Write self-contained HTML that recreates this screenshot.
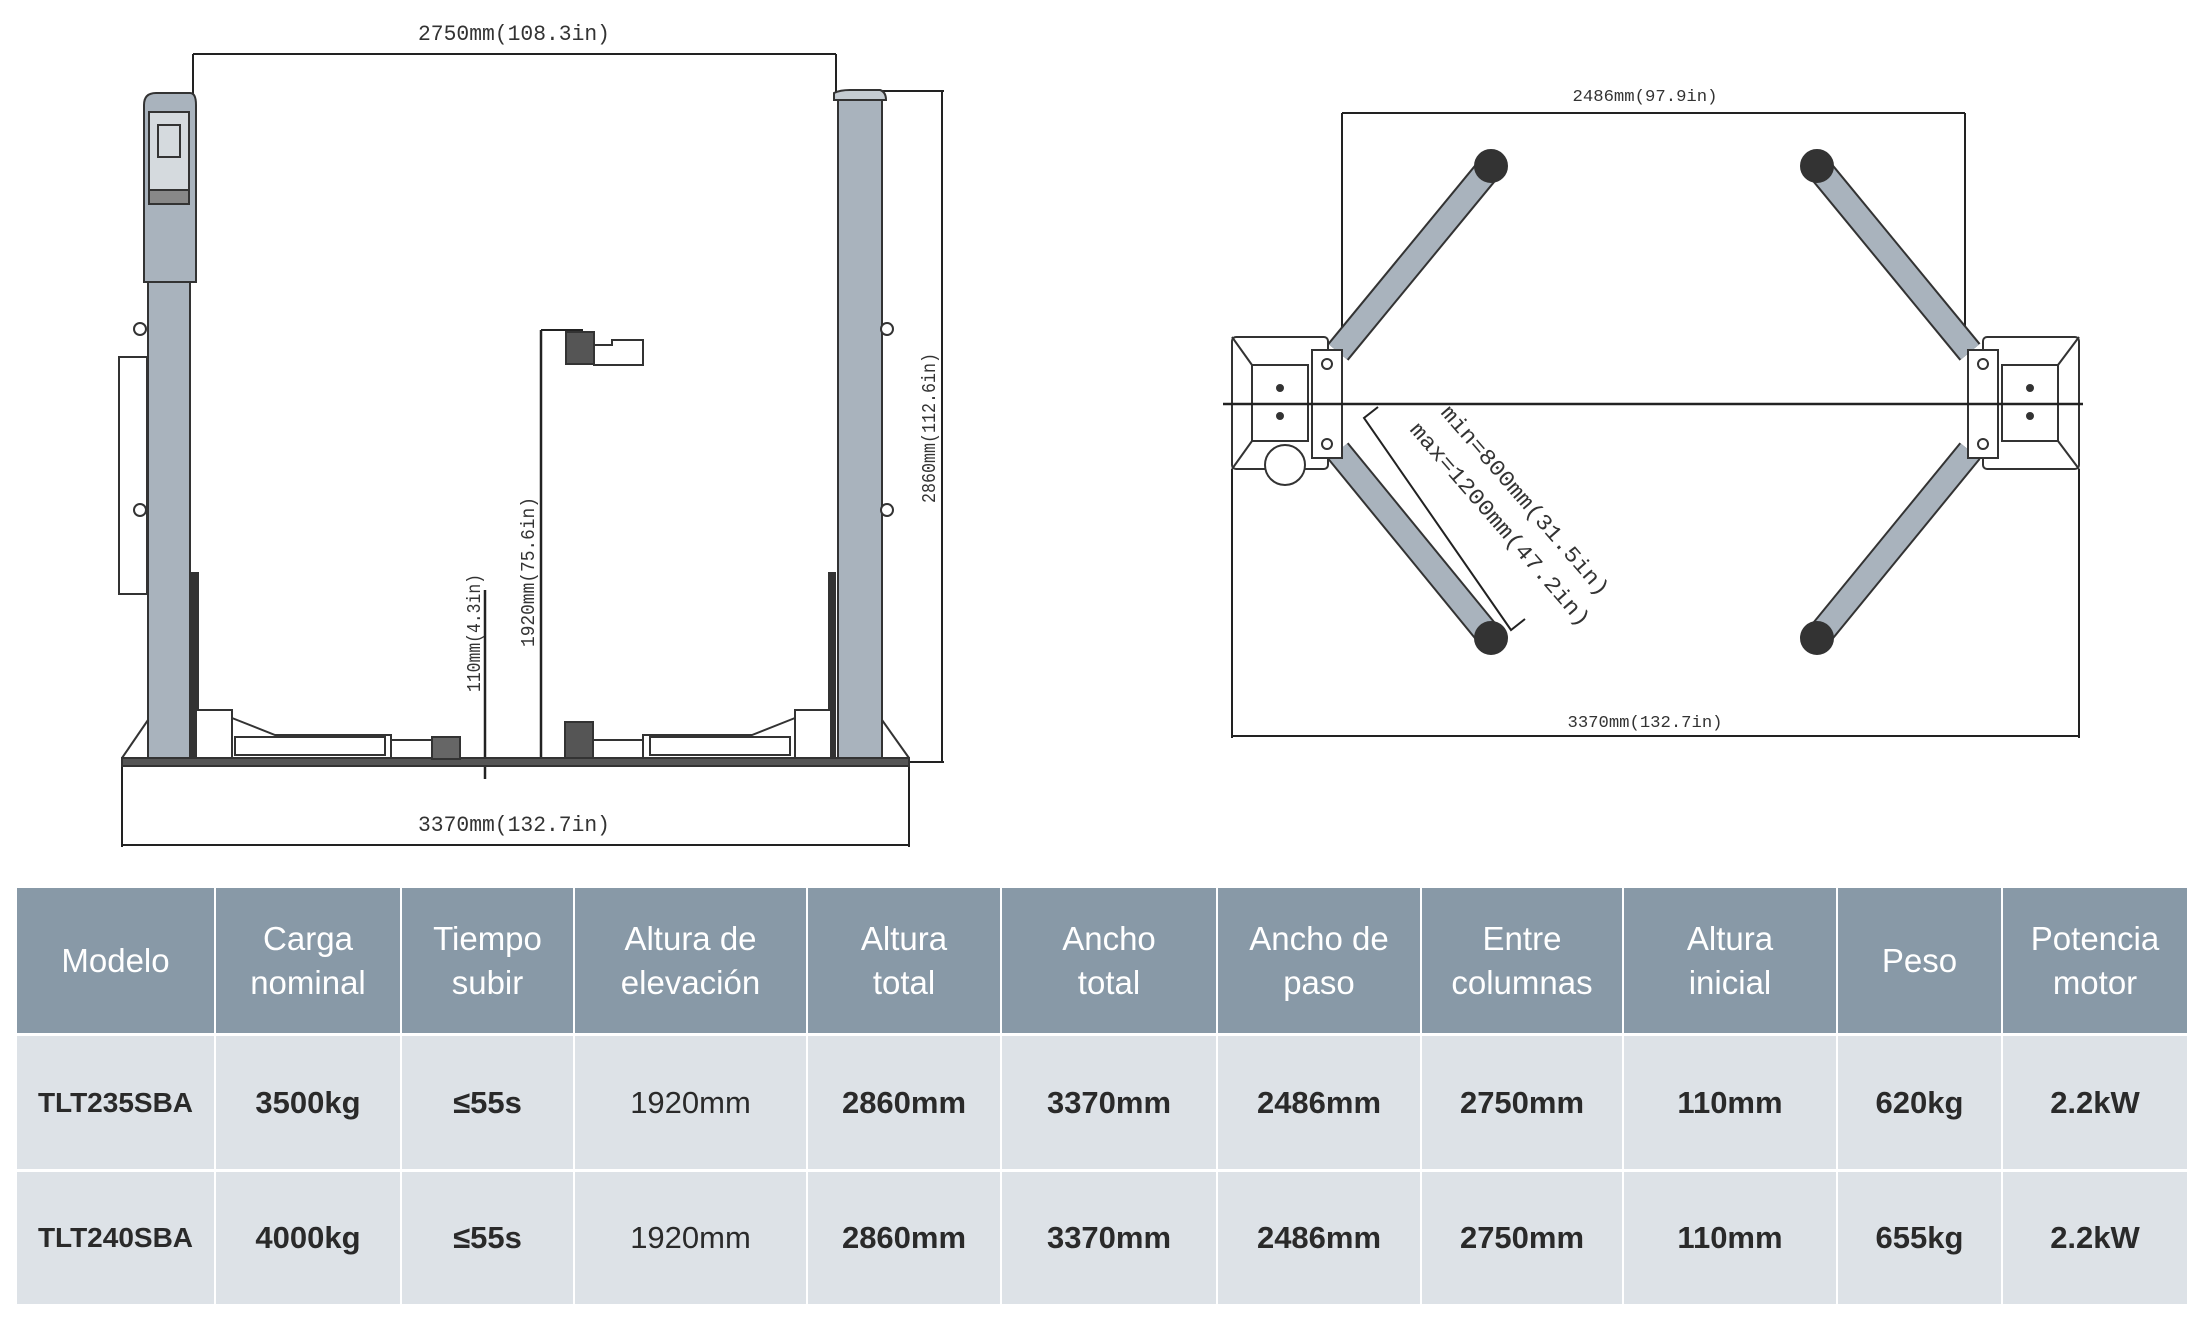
<!DOCTYPE html>
<html><head><meta charset="utf-8"><style>
html,body{margin:0;padding:0;background:#fff;}
body{width:2210px;height:1324px;position:relative;overflow:hidden;font-family:"Liberation Sans",sans-serif;}
svg{position:absolute;left:0;top:0;}
.c{position:absolute;display:flex;align-items:center;justify-content:center;text-align:center;box-sizing:border-box;}
.h{background:#8899a7;color:#fff;font-size:33px;line-height:44px;}
.b{background:#dde2e7;color:#2a2a2a;font-size:31px;font-weight:bold;}
</style></head><body>
<svg width="2210" height="1324" viewBox="0 0 2210 1324">
<g font-family="Liberation Mono, monospace" fill="#333">
<!-- LEFT DRAWING -->
<g stroke="#222" stroke-width="2" fill="none">
 <line x1="193" y1="54" x2="836" y2="54"/>
 <line x1="193" y1="54" x2="193" y2="95"/>
 <line x1="836" y1="54" x2="836" y2="99"/>
 <line x1="882" y1="91" x2="944" y2="91"/>
 <line x1="942" y1="91" x2="942" y2="762"/>
 <line x1="909" y1="762" x2="944" y2="762"/>
 <line x1="122" y1="845" x2="909" y2="845"/>
 <line x1="122" y1="765" x2="122" y2="847"/>
 <line x1="909" y1="765" x2="909" y2="847"/>
 <line x1="541" y1="330" x2="541" y2="762" stroke-width="2.5"/>
 <line x1="541" y1="330" x2="583" y2="330"/>
 <line x1="485" y1="590" x2="485" y2="779" stroke-width="2.5"/>
</g>
<g stroke="#333" stroke-width="2">
 <rect x="148" y="280" width="42" height="482" fill="#a9b3bd"/>
 <path d="M144 282 L144 105 Q144 93 156 93 L190 93 Q196 93 196 105 L196 282 Z" fill="#a9b3bd"/>
 <rect x="149" y="112" width="40" height="78" fill="#d5dade"/>
 <rect x="158" y="125" width="22" height="32" fill="#d5dade"/>
 <rect x="149" y="190" width="40" height="14" fill="#888"/>
 <rect x="838" y="100" width="44" height="662" fill="#a9b3bd"/>
 <path d="M834 100 L834 93 Q840 90 850 90 L880 90 Q886 92 886 100 Z" fill="#c5ccd2"/>
 <rect x="119" y="357" width="28" height="237" fill="#fff"/>
 <circle cx="140" cy="329" r="6" fill="#fff"/><circle cx="140" cy="510" r="6" fill="#fff"/>
 <circle cx="887" cy="329" r="6" fill="#fff"/><circle cx="887" cy="510" r="6" fill="#fff"/>
 <rect x="191" y="573" width="7" height="187" fill="#333"/>
 <rect x="829" y="573" width="6" height="187" fill="#333"/>
 <rect x="122" y="758" width="787" height="8" fill="#555"/>
 <line x1="122" y1="758" x2="148" y2="720"/><line x1="909" y1="758" x2="882" y2="720"/>
 <rect x="196" y="710" width="36" height="48" fill="#fff"/>
 <path d="M232 718 L275 735 L391 735 L391 758 L232 758 Z" fill="#fff"/>
 <rect x="235" y="737" width="150" height="18" fill="#fff"/>
 <rect x="391" y="740" width="60" height="18" fill="#fff"/>
 <rect x="432" y="737" width="28" height="22" fill="#666"/>
 <rect x="795" y="710" width="36" height="48" fill="#fff"/>
 <path d="M795 718 L752 735 L643 735 L643 758 L795 758 Z" fill="#fff"/>
 <rect x="650" y="737" width="140" height="18" fill="#fff"/>
 <rect x="583" y="740" width="60" height="18" fill="#fff"/>
 <rect x="565" y="722" width="28" height="36" fill="#555"/>
 <rect x="566" y="332" width="28" height="32" fill="#555"/>
 <path d="M594 345 L612 345 L612 340 L643 340 L643 365 L594 365 Z" fill="#fff"/>
</g>
<text x="514" y="40" font-size="22" text-anchor="middle" textLength="192" lengthAdjust="spacingAndGlyphs">2750mm(108.3in)</text>
<text x="514" y="831" font-size="22" text-anchor="middle" textLength="192" lengthAdjust="spacingAndGlyphs">3370mm(132.7in)</text>
<text transform="translate(935,428) rotate(-90)" font-size="19" text-anchor="middle" textLength="150" lengthAdjust="spacingAndGlyphs">2860mm(112.6in)</text>
<text transform="translate(534,572) rotate(-90)" font-size="19" text-anchor="middle" textLength="150" lengthAdjust="spacingAndGlyphs">1920mm(75.6in)</text>
<text transform="translate(480,633) rotate(-90)" font-size="19" text-anchor="middle" textLength="118" lengthAdjust="spacingAndGlyphs">110mm(4.3in)</text>

<!-- RIGHT DRAWING -->
<g stroke="#222" stroke-width="2" fill="none">
 <line x1="1342" y1="113" x2="1965" y2="113"/>
 <line x1="1342" y1="113" x2="1342" y2="340"/>
 <line x1="1965" y1="113" x2="1965" y2="340"/>
 <line x1="1232" y1="736" x2="2079" y2="736"/>
 <line x1="1232" y1="469" x2="1232" y2="738"/>
 <line x1="2079" y1="469" x2="2079" y2="738"/>
 <polyline points="1378,407 1364,418 1511,630 1525,619"/>
</g>
<g stroke="#333" stroke-width="2">
 <line x1="1338" y1="352" x2="1491" y2="166" stroke="#333" stroke-width="27"/>
 <line x1="1338" y1="352" x2="1491" y2="166" stroke="#a9b3bd" stroke-width="23"/>
 <line x1="1338" y1="451" x2="1491" y2="638" stroke="#333" stroke-width="27"/>
 <line x1="1338" y1="451" x2="1491" y2="638" stroke="#a9b3bd" stroke-width="23"/>
 <line x1="1970" y1="352" x2="1817" y2="166" stroke="#333" stroke-width="27"/>
 <line x1="1970" y1="352" x2="1817" y2="166" stroke="#a9b3bd" stroke-width="23"/>
 <line x1="1970" y1="451" x2="1817" y2="638" stroke="#333" stroke-width="27"/>
 <line x1="1970" y1="451" x2="1817" y2="638" stroke="#a9b3bd" stroke-width="23"/>
 <circle cx="1491" cy="166" r="16" fill="#333"/>
 <circle cx="1491" cy="638" r="16" fill="#333"/>
 <circle cx="1817" cy="166" r="16" fill="#333"/>
 <circle cx="1817" cy="638" r="16" fill="#333"/>
 <rect x="1232" y="337" width="96" height="132" fill="#fff" rx="4"/>
 <rect x="1252" y="365" width="56" height="76" fill="#fff"/>
 <line x1="1232" y1="337" x2="1252" y2="365"/><line x1="1232" y1="469" x2="1252" y2="441"/>
 <rect x="1312" y="350" width="30" height="108" fill="#fff"/>
 <circle cx="1327" cy="364" r="5" fill="#fff"/><circle cx="1327" cy="444" r="5" fill="#fff"/>
 <circle cx="1280" cy="388" r="3" fill="#333"/><circle cx="1280" cy="416" r="3" fill="#333"/>
 <circle cx="1285" cy="465" r="20" fill="#fff"/>
 <rect x="1983" y="337" width="96" height="132" fill="#fff" rx="4"/>
 <rect x="2002" y="365" width="56" height="76" fill="#fff"/>
 <line x1="2079" y1="337" x2="2058" y2="365"/><line x1="2079" y1="469" x2="2058" y2="441"/>
 <rect x="1968" y="350" width="30" height="108" fill="#fff"/>
 <circle cx="1983" cy="364" r="5" fill="#fff"/><circle cx="1983" cy="444" r="5" fill="#fff"/>
 <circle cx="2030" cy="388" r="3" fill="#333"/><circle cx="2030" cy="416" r="3" fill="#333"/>
</g>
<line x1="1223" y1="404" x2="2083" y2="404" stroke="#222" stroke-width="2.5"/>
<text x="1645" y="101" font-size="17" text-anchor="middle" textLength="145" lengthAdjust="spacingAndGlyphs">2486mm(97.9in)</text>
<text x="1645" y="727" font-size="17" text-anchor="middle" textLength="155" lengthAdjust="spacingAndGlyphs">3370mm(132.7in)</text>
<text transform="translate(1440,413) rotate(49)" font-size="22" textLength="244" lengthAdjust="spacingAndGlyphs">min=800mm(31.5in)</text>
<text transform="translate(1409,430) rotate(49)" font-size="22" textLength="262" lengthAdjust="spacingAndGlyphs">max=1200mm(47.2in)</text>
</g>
</svg>

<div class="c h" style="left:17px;top:888px;width:197px;height:145px;">Modelo</div>
<div class="c h" style="left:216px;top:888px;width:184px;height:145px;">Carga<br>nominal</div>
<div class="c h" style="left:402px;top:888px;width:171px;height:145px;">Tiempo<br>subir</div>
<div class="c h" style="left:575px;top:888px;width:231px;height:145px;">Altura de<br>elevación</div>
<div class="c h" style="left:808px;top:888px;width:192px;height:145px;">Altura<br>total</div>
<div class="c h" style="left:1002px;top:888px;width:214px;height:145px;">Ancho<br>total</div>
<div class="c h" style="left:1218px;top:888px;width:202px;height:145px;">Ancho de<br>paso</div>
<div class="c h" style="left:1422px;top:888px;width:200px;height:145px;">Entre<br>columnas</div>
<div class="c h" style="left:1624px;top:888px;width:212px;height:145px;">Altura<br>inicial</div>
<div class="c h" style="left:1838px;top:888px;width:163px;height:145px;">Peso</div>
<div class="c h" style="left:2003px;top:888px;width:184px;height:145px;">Potencia<br>motor</div>

<div class="c b" style="left:17px;top:1036px;width:197px;height:133px;font-size:28px;">TLT235SBA</div>
<div class="c b" style="left:216px;top:1036px;width:184px;height:133px;">3500kg</div>
<div class="c b" style="left:402px;top:1036px;width:171px;height:133px;">≤55s</div>
<div class="c b" style="left:575px;top:1036px;width:231px;height:133px;font-weight:normal;">1920mm</div>
<div class="c b" style="left:808px;top:1036px;width:192px;height:133px;">2860mm</div>
<div class="c b" style="left:1002px;top:1036px;width:214px;height:133px;">3370mm</div>
<div class="c b" style="left:1218px;top:1036px;width:202px;height:133px;">2486mm</div>
<div class="c b" style="left:1422px;top:1036px;width:200px;height:133px;">2750mm</div>
<div class="c b" style="left:1624px;top:1036px;width:212px;height:133px;">110mm</div>
<div class="c b" style="left:1838px;top:1036px;width:163px;height:133px;">620kg</div>
<div class="c b" style="left:2003px;top:1036px;width:184px;height:133px;">2.2kW</div>

<div class="c b" style="left:17px;top:1172px;width:197px;height:132px;font-size:28px;">TLT240SBA</div>
<div class="c b" style="left:216px;top:1172px;width:184px;height:132px;">4000kg</div>
<div class="c b" style="left:402px;top:1172px;width:171px;height:132px;">≤55s</div>
<div class="c b" style="left:575px;top:1172px;width:231px;height:132px;font-weight:normal;">1920mm</div>
<div class="c b" style="left:808px;top:1172px;width:192px;height:132px;">2860mm</div>
<div class="c b" style="left:1002px;top:1172px;width:214px;height:132px;">3370mm</div>
<div class="c b" style="left:1218px;top:1172px;width:202px;height:132px;">2486mm</div>
<div class="c b" style="left:1422px;top:1172px;width:200px;height:132px;">2750mm</div>
<div class="c b" style="left:1624px;top:1172px;width:212px;height:132px;">110mm</div>
<div class="c b" style="left:1838px;top:1172px;width:163px;height:132px;">655kg</div>
<div class="c b" style="left:2003px;top:1172px;width:184px;height:132px;">2.2kW</div>
</body></html>
